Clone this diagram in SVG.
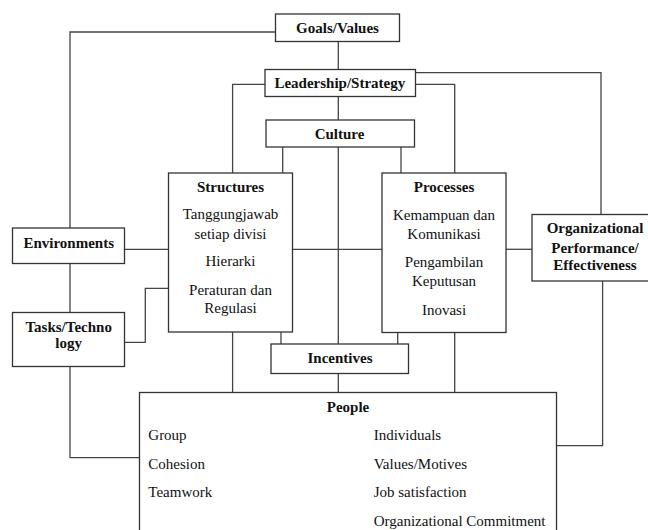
<svg xmlns="http://www.w3.org/2000/svg" width="648" height="530" viewBox="0 0 648 530">
<style>
.box{fill:#fff;stroke:#333;stroke-width:1.3}
.ln{fill:none;stroke:#444;stroke-width:1.3}
text{font-family:"Liberation Serif","Times New Roman",serif;font-size:15px;fill:#111}
.b{font-weight:bold;text-anchor:middle}
.c{text-anchor:middle}
</style>
<rect width="648" height="530" fill="#fff"/>
<g id="connectors">
<polyline class="ln" points="275.5,32 70,32 70,228"/>
<line class="ln" x1="338.3" y1="41.5" x2="338.3" y2="69.5"/>
<polyline class="ln" points="415.5,72.7 601,72.7 601,214.5"/>
<polyline class="ln" points="265,84.3 232.6,84.3 232.6,173"/>
<line class="ln" x1="232.6" y1="332" x2="232.6" y2="392.5"/>
<polyline class="ln" points="415.5,84.3 454.7,84.3 454.7,173"/>
<line class="ln" x1="454.7" y1="332.5" x2="454.7" y2="392.5"/>
<line class="ln" x1="338.3" y1="96.5" x2="338.3" y2="120"/>
<line class="ln" x1="282.7" y1="147" x2="282.7" y2="173"/>
<line class="ln" x1="401" y1="147" x2="401" y2="173"/>
<line class="ln" x1="338.3" y1="147" x2="338.3" y2="344"/>
<line class="ln" x1="124.5" y1="249.3" x2="168.5" y2="249.3"/>
<line class="ln" x1="292.5" y1="249.3" x2="382" y2="249.3"/>
<line class="ln" x1="506" y1="249.3" x2="532" y2="249.3"/>
<line class="ln" x1="70" y1="263.5" x2="70" y2="312.5"/>
<polyline class="ln" points="124.5,342.3 145.3,342.3 145.3,288.3 168.5,288.3"/>
<line class="ln" x1="281" y1="332" x2="281" y2="344"/>
<line class="ln" x1="397.7" y1="332.5" x2="397.7" y2="344"/>
<line class="ln" x1="338.3" y1="373.5" x2="338.3" y2="392.5"/>
<polyline class="ln" points="70,366.5 70,457.7 139.5,457.7"/>
<polyline class="ln" points="602.6,281 602.6,445.7 556.5,445.7"/>
</g>
<g id="goals">
<rect class="box" x="275.5" y="14" width="124" height="27.5"/>
<text class="b" x="337.5" y="32.5">Goals/Values</text>
</g>
<g id="leadership">
<rect class="box" x="265" y="69.5" width="150.5" height="27"/>
<text class="b" x="339.8" y="88.3">Leadership/Strategy</text>
</g>
<g id="culture">
<rect class="box" x="266" y="120" width="148.5" height="27"/>
<text class="b" x="339.5" y="139.3">Culture</text>
</g>
<g id="structures">
<rect class="box" x="168.5" y="173" width="124" height="159"/>
<text class="b" x="230.5" y="191.7">Structures</text>
<text class="c" x="230.5" y="219.3">Tanggungjawab</text>
<text class="c" x="230.5" y="238.5">setiap divisi</text>
<text class="c" x="230.5" y="266">Hierarki</text>
<text class="c" x="230.5" y="295">Peraturan dan</text>
<text class="c" x="230.5" y="313.3">Regulasi</text>
</g>
<g id="processes">
<rect class="box" x="382" y="173" width="124" height="159.5"/>
<text class="b" x="444" y="191.7">Processes</text>
<text class="c" x="444" y="219.8">Kemampuan dan</text>
<text class="c" x="444" y="238.8">Komunikasi</text>
<text class="c" x="444" y="267.3">Pengambilan</text>
<text class="c" x="444" y="285.5">Keputusan</text>
<text class="c" x="444" y="315">Inovasi</text>
</g>
<g id="environments">
<rect class="box" x="12.5" y="228" width="112" height="35.5"/>
<text class="b" x="68.7" y="247.7">Environments</text>
</g>
<g id="tasks">
<rect class="box" x="12.5" y="312.5" width="112" height="54"/>
<text class="b" x="68.7" y="331.7">Tasks/Techno</text>
<text class="b" x="68.7" y="348.3">logy</text>
</g>
<g id="performance">
<rect class="box" x="532" y="214.5" width="126" height="66.5"/>
<text class="b" x="595" y="233.3">Organizational</text>
<text class="b" x="595" y="252.7">Performance/</text>
<text class="b" x="595" y="270">Effectiveness</text>
</g>
<g id="incentives">
<rect class="box" x="271" y="344" width="137.5" height="29.5"/>
<text class="b" x="340" y="363.3">Incentives</text>
</g>
<g id="people">
<rect class="box" x="139.5" y="392.5" width="417" height="150"/>
<text class="b" x="348" y="411.7">People</text>
<text x="148.3" y="440">Group</text>
<text x="148.3" y="469">Cohesion</text>
<text x="148.3" y="496.7">Teamwork</text>
<text x="373.7" y="440">Individuals</text>
<text x="373.7" y="469">Values/Motives</text>
<text x="373.7" y="496.7">Job satisfaction</text>
<text x="373.7" y="525.7">Organizational Commitment</text>
</g>
</svg>
